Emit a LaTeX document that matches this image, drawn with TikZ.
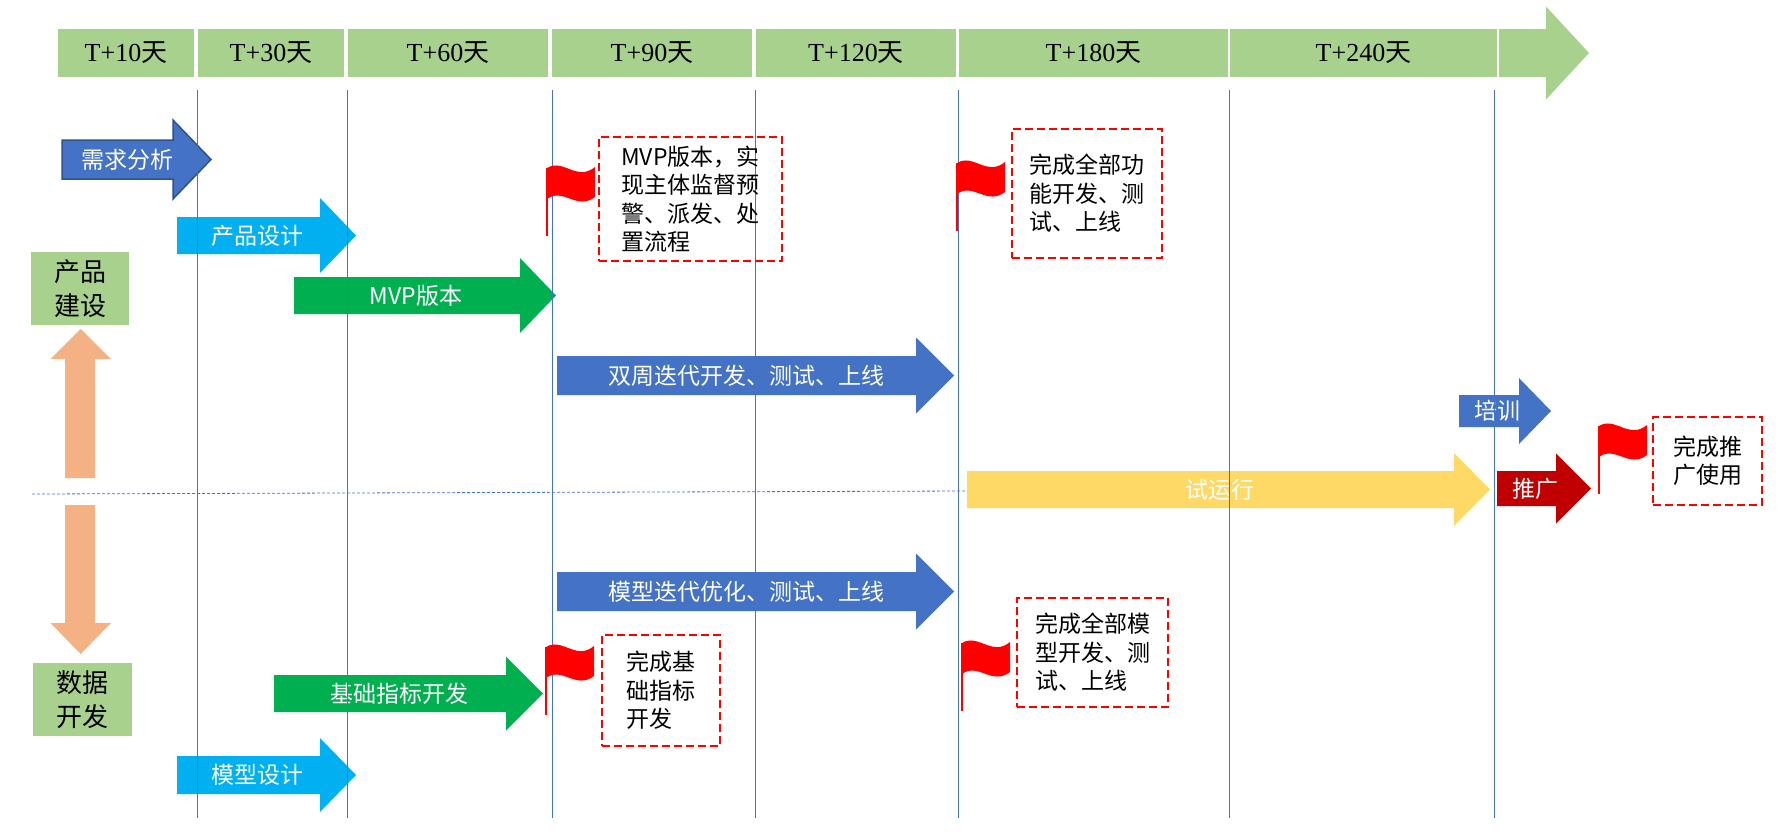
\documentclass[tikz,border=0pt]{standalone}
\usepackage{fontspec}
\setmainfont{Liberation Serif}
\newfontfamily\cjk{Noto Sans CJK SC}
\definecolor{barGreen}{HTML}{A9D18E}
\definecolor{arBlue}{HTML}{4472C4}
\definecolor{arEdge}{HTML}{2F528F}
\definecolor{arCyan}{HTML}{00B0F0}
\definecolor{arGreen}{HTML}{00B050}
\definecolor{arYellow}{HTML}{FFD966}
\definecolor{arRed}{HTML}{C00000}
\definecolor{arOrange}{HTML}{F4B183}

\begin{document}
\begin{tikzpicture}[x=1pt,y=-1pt,
        cell/.style={fill=barGreen, minimum height=48pt, inner sep=0pt, font=\fontsize{26}{26}\selectfont},
        label/.style={text=white, inner sep=0pt, font=\cjk\fontsize{23}{23}\selectfont},
        note/.style={draw=red, line width=2.2pt, dash pattern=on 8pt off 4pt, align=left, inner sep=0pt,
        font=\cjk\fontsize{23}{28.5}\selectfont},
        side/.style={fill=barGreen, minimum width=98pt, minimum height=73pt, align=center, inner sep=0pt,
        font=\cjk\fontsize{26}{34}\selectfont},
        vline/.style={draw=arBlue, line width=0.9pt},
        blueEdge/.style={fill=arBlue, draw=arEdge, line width=1.5pt},
        blueArr/.style={fill=arBlue},
        cyanArr/.style={fill=arCyan},
        greenArr/.style={fill=arGreen},
        yellowArr/.style={fill=arYellow},
        redArr/.style={fill=arRed}]
        \useasboundingbox (0,0) rectangle (1782,835);
        % time bar
        \foreach \xa/\xb/\t [count=\i] in {58/194/10,198/344/30,348/548/60,552/752/90,756/956/120,959/1228/180,1230/1497/240}
          \node[cell, minimum width={(\xb-\xa)*1pt}] (t\i) at ({(\xa+\xb)/2},53) {T+\t{\cjk 天}};
        \fill[barGreen] (1499,29) -- (1546,29) -- (1546,6.5) -- (1589,53) -- (1546,99.5) -- (1546,77) -- (1499,77) -- cycle;
        % phase arrows
        \foreach \xa/\xb/\xc/\yc/\hs/\hh/\sty/\txt [count=\i] in {
          62/173/211/159.5/19.5/39.5/blueEdge/需求分析,
          177/320/356/235.5/18.5/37.5/cyanArr/产品设计,
          294/520/556/295.5/18.5/37.5/greenArr/MVP版本,
          557/916/954/375.5/19.5/38/blueArr/双周迭代开发、测试、上线,
          557/916/954/591.5/19.5/38/blueArr/模型迭代优化、测试、上线,
          274/506/543/693.5/18.5/37/greenArr/基础指标开发,
          177/320/356/775/19/37/cyanArr/模型设计,
          1459/1519/1551/411/16/33/blueArr/培训,
          967/1454/1490/489.5/18.5/36.5/yellowArr/试运行,
          1497/1556/1591/488.5/17.5/35/redArr/推广}
        {
          \path[\sty] (\xa,\yc-\hs) -- (\xb,\yc-\hs) -- (\xb,\yc-\hh) -- (\xc,\yc) -- (\xb,\yc+\hh) -- (\xb,\yc+\hs) -- (\xa,\yc+\hs) -- cycle;
          \node[label] (ar\i) at ({(\xa+(\xb+\xc)/2)/2},\yc) {\txt};
        }
        % grid
        \foreach \x in {197.5,347,552,755,958,1229,1494}
          \draw[vline] (\x,90) -- (\x,818);
        \draw[vline, line width=0.8pt, dash pattern=on 3pt off 2pt] (32,494) -- (967,491);
        % side labels
        \fill[arOrange] (65,478) -- (65,359) -- (50.5,359) -- (80.75,329) -- (111,359) -- (95,359) -- (95,478) -- cycle;
        \fill[arOrange] (65,505) -- (65,623) -- (50.5,623) -- (80.75,654) -- (111,623) -- (95,623) -- (95,505) -- cycle;
        \node[side] (build) at (80,288.5) {产品\\建设};
        \node[side, minimum width=99pt] (data) at (82.5,699.5) {数据\\开发};
        % flags
        \foreach \p/\q in {547/168,957/163,546/647,962/643,1599/426}
        {
          \draw[red, line width=2pt] (\p,\q) -- (\p,\q+68);
          \fill[red] (\p,\q) .. controls (\p+16,\q-10) and (\p+30,\q+14) .. (\p+48,\q-1) -- (\p+48,\q+29)
            .. controls (\p+30,\q+43) and (\p+16,\q+19) .. (\p,\q+31) -- cycle;
        }
        % milestones
        \node[note, minimum width=183pt, minimum height=124pt] (m1) at (690.5,199) {MVP版本，实\\现主体监督预\\警、派发、处\\置流程};
        \node[note, minimum width=150pt, minimum height=129pt] (m2) at (1087,193.5) {完成全部功\\能开发、测\\试、上线};
        \node[note, minimum width=118pt, minimum height=111pt] (m3) at (661,690.5) {完成基\\础指标\\开发};
        \node[note, minimum width=151pt, minimum height=109pt] (m4) at (1092.5,652.5) {完成全部模\\型开发、测\\试、上线};
        \node[note, minimum width=109pt, minimum height=88pt] (m5) at (1707.5,461) {完成推\\广使用};
    \end{tikzpicture}
\end{document}
